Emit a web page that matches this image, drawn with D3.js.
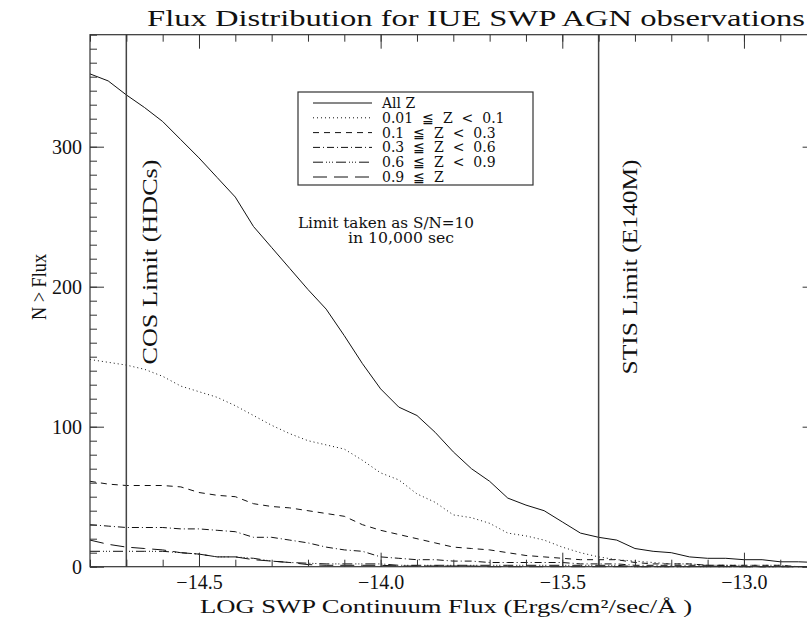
<!DOCTYPE html>
<html>
<head>
<meta charset="utf-8">
<script src="https://cdn.jsdelivr.net/npm/d3@7"></script>
<style>
  body { margin: 0; background: #fff; overflow: hidden; }
  svg text { font-family: "Liberation Serif", "DejaVu Serif", serif; fill: #111; }
</style>
</head>
<body>
<div id="chart-area"></div>
<script>
// size
let width  = 807,
    height = 628;
let margin = {left: 90, top: 34.7, right: 816.6, bottom: 566.7};

// data: cumulative N > flux at each LOG flux value
const logFlux = [-14.8, -14.75, -14.7, -14.65, -14.6, -14.55, -14.5, -14.45, -14.4, -14.35,
                 -14.3, -14.25, -14.2, -14.15, -14.1, -14.05, -14.0, -13.95, -13.9, -13.85,
                 -13.8, -13.75, -13.7, -13.65, -13.6, -13.55, -13.5, -13.45, -13.4, -13.35,
                 -13.3, -13.25, -13.2, -13.15, -13.1, -13.05, -13.0, -12.95, -12.9, -12.85, -12.8];

const allZ = [352, 347, 337, 328, 318, 305, 292, 278, 264, 243,
              228, 213, 198, 184, 165, 145, 127, 114, 108, 96,
              82, 70, 61, 49, 44, 40, 32, 24, 21, 19,
              13, 11, 10, 7, 6, 6, 5, 5, 3.5, 3.5, 3];
const z001 = [148, 146, 144, 141, 136, 129, 125, 121, 115, 108,
              101, 95, 90, 87, 84, 76, 67, 62, 52, 46,
              37, 35, 31, 24, 22, 19, 14, 10, 7, 5,
              4, 3, 2, 2, 1, 1, 1, 1, 1, 0, 0];
const z01  = [61, 59, 58, 58, 58, 57, 53, 51, 50, 45,
              43, 42, 40, 38, 36, 30, 26, 23, 20, 17,
              14, 13, 12, 10, 8, 7, 6, 5, 5, 5,
              3, 2, 2, 2, 1, 1, 1, 1, 1, 0, 0];
const z03  = [30, 29, 28, 28, 28, 27, 27, 26, 25, 21,
              21, 19, 17, 14, 12, 11, 7, 6, 5, 5,
              4, 4, 3, 3, 3, 3, 3, 2, 2, 2,
              1, 1, 1, 1, 1, 1, 0, 0, 0, 0, 0];
const z06  = [11, 11, 11, 11, 11, 10, 9, 7, 7, 6,
              4, 3, 2.5, 2, 2, 2, 2, 1, 1, 1,
              1, 1, 1, 1, 1, 1, 1, 1, 1, 1,
              0, 0, 0, 0, 0, 0, 0, 0, 0, 0, 0];
const z09  = [19, 16, 14, 13, 12, 10, 9, 7, 7, 5,
              4, 3, 1.5, 1, 1, 1, 1, 0.5, 0.5, 0.5,
              0.5, 0.5, 0, 0, 0, 0, 0, 0, 0, 0,
              0, 0, 0, 0, 0, 0, 0, 0, 0, 0, 0];

const seriesNames = ["All Z", "0.01  \u2266  Z  <  0.1", "0.1  \u2266  Z  <  0.3",
                     "0.3  \u2266  Z  <  0.6", "0.6  \u2266  Z  <  0.9", "0.9  \u2266  Z"];
const seriesValues = [allZ, z001, z01, z03, z06, z09];
const dashes = [null, "1,3", "6,5", "7,3,1,3", "10,3,1,2,1,2,1,3", "14,7"];

const xTicks = [-14.5, -14.0, -13.5, -13.0];
const yTicks = [0, 100, 200, 300];
const limits = [-14.7, -13.4];
const limitNames = ["COS Limit (HDCs)", "STIS Limit (E140M)"];

// scales
let x = d3.scaleLinear().domain([-14.8, -12.8]).range([margin.left, margin.right]);
let y = d3.scaleLinear().domain([0, 380]).range([margin.bottom, margin.top]);

let svg = d3.select("#chart-area")
    .append("svg")
    .attr("width", width)
    .attr("height", height);

// curves
let line = d3.line()
    .x((d, i) => x(logFlux[i]))
    .y(d => y(d));

svg.selectAll("path.curve")
    .data(seriesValues)
    .enter()
    .append("path")
    .attr("class", "curve")
    .attr("d", d => line(d))
    .attr("fill", "none")
    .attr("stroke", "#111")
    .attr("stroke-width", 1)
    .attr("stroke-dasharray", (d, i) => dashes[i]);

// limit lines
svg.selectAll("line.limit")
    .data(limits)
    .enter()
    .append("line")
    .attr("class", "limit")
    .attr("x1", d => x(d)).attr("x2", d => x(d))
    .attr("y1", margin.top).attr("y2", margin.bottom)
    .attr("stroke", "#444")
    .attr("stroke-width", 1.5);

// axes, ticks pointing inside
function styleAxis(g) {
    g.select(".domain").remove();
    g.selectAll(".tick line").attr("stroke", "#333");
    g.selectAll("text").style("font-size", "20px").attr("font-family", null);
}
let minorX = d3.range(-14.8, -12.75, 0.1).map(v => Math.round(v * 10) / 10);
let minorY = d3.range(0, 381, 10);

svg.append("g")
    .attr("transform", "translate(0," + margin.bottom + ")")
    .call(d3.axisBottom(x).tickValues(minorX).tickSize(-7).tickFormat(""))
    .call(styleAxis);
svg.append("g")
    .attr("transform", "translate(0," + margin.bottom + ")")
    .call(d3.axisBottom(x).tickValues(xTicks).tickSize(-14).tickPadding(8)
        .tickFormat(d => "\u2212" + Math.abs(d).toFixed(1)))
    .call(styleAxis);
svg.append("g")
    .attr("transform", "translate(0," + margin.top + ")")
    .call(d3.axisTop(x).tickValues(minorX).tickSize(-7).tickFormat(""))
    .call(styleAxis);
svg.append("g")
    .attr("transform", "translate(0," + margin.top + ")")
    .call(d3.axisTop(x).tickValues(xTicks).tickSize(-14).tickFormat(""))
    .call(styleAxis);

svg.append("g")
    .attr("transform", "translate(" + margin.left + ",0)")
    .call(d3.axisLeft(y).tickValues(minorY).tickSize(-7).tickFormat(""))
    .call(styleAxis);
svg.append("g")
    .attr("transform", "translate(" + margin.left + ",0)")
    .call(d3.axisLeft(y).tickValues(yTicks).tickSize(-14).tickPadding(8))
    .call(styleAxis);
svg.append("g")
    .attr("transform", "translate(" + margin.right + ",0)")
    .call(d3.axisRight(y).tickValues(minorY).tickSize(-7).tickFormat(""))
    .call(styleAxis);
svg.append("g")
    .attr("transform", "translate(" + margin.right + ",0)")
    .call(d3.axisRight(y).tickValues(yTicks).tickSize(-14).tickFormat(""))
    .call(styleAxis);

// frame
svg.append("rect")
    .attr("x", margin.left).attr("y", margin.top)
    .attr("width", margin.right - margin.left)
    .attr("height", margin.bottom - margin.top)
    .attr("fill", "none")
    .attr("stroke", "#333")
    .attr("stroke-width", 1.2);

// title and axis names
svg.append("text")
    .text("Flux Distribution for IUE SWP AGN observations")
    .attr("x", 147).attr("y", 26)
    .attr("textLength", 658)
    .attr("lengthAdjust", "spacingAndGlyphs")
    .style("font-size", "24px");

svg.append("text")
    .text("LOG SWP Continuum Flux (Ergs/cm\u00B2/sec/\u00C5 )")
    .attr("x", 200).attr("y", 613)
    .attr("textLength", 492)
    .attr("lengthAdjust", "spacingAndGlyphs")
    .style("font-size", "19px");

svg.append("text")
    .text("N > Flux")
    .attr("transform", "translate(46,287) rotate(-90)")
    .attr("textLength", 66)
    .attr("lengthAdjust", "spacingAndGlyphs")
    .style("text-anchor", "middle")
    .style("font-size", "20px");

// limit labels
let limitLabelPos = [{x: 157, y: 262, len: 205}, {x: 637, y: 267, len: 215}];
svg.selectAll("text.limit-label")
    .data(limitNames)
    .enter()
    .append("text")
    .attr("class", "limit-label")
    .text(d => d)
    .attr("transform", (d, i) => "translate(" + limitLabelPos[i].x + "," + limitLabelPos[i].y + ") rotate(-90)")
    .attr("textLength", (d, i) => limitLabelPos[i].len)
    .attr("lengthAdjust", "spacingAndGlyphs")
    .style("text-anchor", "middle")
    .style("font-size", "20px");

// note
svg.append("text")
    .text("Limit taken as S/N=10")
    .attr("x", 298).attr("y", 228)
    .attr("textLength", 176)
    .attr("lengthAdjust", "spacingAndGlyphs")
    .style("font-family", "DejaVu Serif")
    .style("font-size", "14.5px");
svg.append("text")
    .text("in 10,000 sec")
    .attr("x", 348).attr("y", 243)
    .attr("textLength", 106)
    .attr("lengthAdjust", "spacingAndGlyphs")
    .style("font-family", "DejaVu Serif")
    .style("font-size", "14.5px");

// legend
let legend = svg.append("g");
legend.append("rect")
    .attr("x", 298).attr("y", 92)
    .attr("width", 235).attr("height", 93)
    .attr("fill", "#fff")
    .attr("stroke", "#333")
    .attr("stroke-width", 1.2);

let rows = legend.selectAll("g.row")
    .data(seriesNames)
    .enter()
    .append("g")
    .attr("class", "row")
    .attr("transform", (d, i) => "translate(0," + (103 + i * 14.8) + ")");
rows.append("line")
    .attr("x1", 313).attr("x2", 372)
    .attr("stroke", "#111")
    .attr("stroke-width", 1)
    .attr("stroke-dasharray", (d, i) => dashes[i]);
rows.append("text")
    .text(d => d)
    .attr("x", 382).attr("y", 5)
    .attr("xml:space", "preserve")
    .style("white-space", "pre")
    .style("font-family", "DejaVu Serif")
    .style("font-size", "14px");
</script>
</body>
</html>
